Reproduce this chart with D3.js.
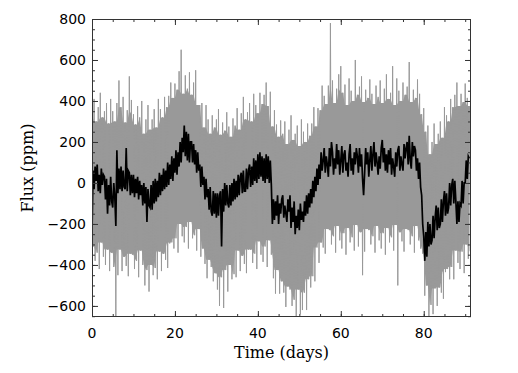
<!DOCTYPE html>
<html>
<head>
<meta charset="utf-8">
<script src="https://cdn.jsdelivr.net/npm/d3@7"></script>
<style>
  body { margin: 0; background: #fff; }
  .tick-label { font-family: "DejaVu Sans", sans-serif; font-size: 14px; fill: #000; }
  .axis-title { font-family: "DejaVu Serif", serif; font-size: 16px; fill: #000; }
</style>
</head>
<body>
<svg id="chart"></svg>
<script>
// Raw flux: upper / lower excursion of the noisy series, one pair every half day (t = 0, 0.5, ... 91)
const rawStep = 0.5;
const rawHigh = [
  330, 410, 300, 370, 440, 320, 350, 390, 290, 410, 350, 300, 390, 500, 370, 420, 295, 355, 520, 405,
  335, 285, 375, 320, 400, 240, 310, 380, 260, 310, 360, 270, 410, 360, 320, 420, 370, 425, 490, 415,
  485, 455, 545, 650, 435, 525, 460, 540, 430, 490, 550, 380, 380, 390, 270, 380, 310, 240, 330, 270,
  310, 360, 235, 295, 255, 345, 275, 225, 315, 280, 365, 260, 340, 420, 310, 345, 390, 300, 435, 380,
  340, 440, 385, 430, 490, 375, 445, 275, 355, 285, 225, 305, 240, 300, 190, 260, 330, 210, 240, 280,
  180, 310, 250, 200, 290, 230, 290, 370, 275, 365, 355, 475, 425, 385, 475, 780, 500, 390, 460, 530,
  570, 440, 480, 380, 510, 450, 400, 600, 430, 470, 520, 395, 455, 415, 505, 435, 385, 475, 420, 500,
  390, 460, 530, 410, 440, 570, 380, 510, 450, 400, 490, 430, 470, 590, 395, 455, 415, 505, 435, 335,
  365, 250, 280, 140, 200, 290, 190, 240, 300, 220, 370, 330, 300, 410, 370, 430, 490, 375, 435, 395,
  485, 415, 375
];
const rawLow = [
  -310, -380, -340, -420, -290, -360, -400, -325, -430, -340, -410, -654, -450, -325, -430, -360, -405, -455, -345, -350,
  -420, -380, -460, -330, -400, -500, -425, -530, -400, -450, -415, -470, -335, -430, -345, -375, -415, -295, -290, -320,
  -270, -340, -200, -260, -290, -215, -320, -190, -270, -255, -330, -225, -360, -320, -395, -465, -375, -410, -480, -440,
  -520, -600, -460, -610, -425, -530, -400, -470, -445, -460, -330, -430, -355, -395, -440, -325, -325, -390, -345, -420,
  -285, -350, -385, -310, -410, -280, -350, -465, -540, -425, -540, -480, -535, -605, -505, -520, -600, -570, -654, -520,
  -640, -620, -535, -620, -470, -510, -455, -480, -315, -390, -290, -315, -345, -225, -230, -300, -260, -340, -210, -280,
  -320, -245, -350, -220, -290, -265, -330, -205, -310, -240, -450, -335, -225, -230, -300, -260, -340, -210, -280, -320,
  -245, -350, -220, -290, -265, -330, -205, -500, -240, -285, -335, -225, -230, -300, -260, -340, -210, -280, -320, -345,
  -550, -500, -654, -595, -640, -515, -600, -510, -535, -565, -435, -420, -470, -410, -470, -330, -390, -420, -335, -440,
  -300, -370, -335
];

// Binned flux, every quarter day (t = 0, 0.25, ... 91)
const binStep = 0.25;
const binFlux = [
  -250, 60, -30, 80, 10, 90, -40, 40, -50, 70, -10, 40, 30, -80, 20, -150, -10, -110, 30, -90,
  -120, 0, -70, -210, 160, -50, 70, -30, 80, -40, 60, -20, -30, 170, -40, 60, 50, -60, 40, -50,
  40, -70, 20, -50, 30, -80, 10, -60, -10, -110, 0, -100, -20, -190, -30, -110, -120, -10, -130, 10,
  -100, 20, -90, 10, -70, 50, -60, 40, -40, 70, -30, 60, -20, 100, -10, 90, 20, 130, 10, 120,
  50, 160, 40, 150, 80, 200, 100, 220, 150, 280, 130, 250, 110, 240, 100, 200, 200, 100, 190, 90,
  160, 50, 150, 60, 90, -20, 80, -10, 30, -80, 20, -70, -30, -130, -20, -140, -160, -40, -150, -50,
  -170, -50, -160, -60, -40, -310, -30, -140, 0, -110, -10, -100, -120, -10, -110, 0, -90, 20, -80, 10,
  -70, 40, -60, 30, 50, -50, 60, -40, -40, 70, -30, 60, 90, -20, 80, -10, 120, 10, 110, 0,
  140, 20, 150, 30, 130, 10, 120, 0, 140, 20, 130, 0, 110, -10, -200, -80, -180, -90, -160, -60,
  -200, -100, -150, -80, -60, -170, -110, -150, -190, -80, -140, -60, -220, -120, -190, -90, -250, -160, -220, -130,
  -230, -100, -180, -140, -190, -90, -160, -60, -150, -50, -120, -30, -100, 10, -70, 30, -40, 70, -10, 90,
  20, 150, 60, 110, 170, 50, 130, 90, 30, 170, 80, 200, 150, 40, 120, 70, 190, 90, 160, 40,
  110, 180, 50, 140, 160, 60, 100, 30, 140, 190, 60, 120, 40, 150, 90, 170, 130, 50, 170, 80,
  140, 20, -60, 50, 170, 90, 150, 30, 110, 180, 60, 140, 200, 80, 150, 100, 40, 130, 70, 170,
  210, 100, 170, 60, 140, 50, 160, 90, 170, 40, 120, 80, 30, 150, 80, 160, 180, 60, 130, 90,
  60, 190, 120, 170, 200, 90, 230, 110, 70, 200, 130, 180, 160, 60, 120, 20, 100, -20, -60, -200,
  -260, -380, -240, -360, -190, -310, -200, -300, -280, -160, -270, -170, -110, -230, -120, -220, -200, -80, -190, -90,
  -40, -160, -50, -150, -120, 0, -110, -10, 20, -100, 10, -90, -200, -90, -190, -100, -110, 10, -100, 0,
  0, 110, 20, 130, 120
];

const xTicks = [0, 20, 40, 60, 80];
const yTicks = [-600, -400, -200, 0, 200, 400, 600, 800];

// Layout
const W = 518, H = 373;
const margin = { top: 19, right: 47, bottom: 56, left: 92 };
const width = W - margin.left - margin.right;
const height = H - margin.top - margin.bottom;

const svg = d3.select("#chart")
    .attr("width", W)
    .attr("height", H);

const x = d3.scaleLinear().domain([0, 91.4]).range([margin.left, margin.left + width]);
const y = d3.scaleLinear().domain([-654, 800]).range([margin.top + height, margin.top]);

svg.append("clipPath")
    .attr("id", "plot-clip")
    .append("rect")
    .attr("x", margin.left)
    .attr("y", margin.top)
    .attr("width", width)
    .attr("height", height);

const plot = svg.append("g").attr("clip-path", "url(#plot-clip)");

const rawColor = "#999";

// solid body of the raw band: the excursions with single-sample spikes trimmed off
const rawData = rawHigh.map((v, i) => {
    const win = d3.range(Math.max(0, i - 1), Math.min(rawHigh.length, i + 2));
    return {
        t: i * rawStep,
        hi: d3.min(win, j => rawHigh[j]),
        lo: d3.max(win, j => rawLow[j])
    };
});

const area = d3.area()
    .x(d => x(d.t))
    .y0(d => y(d.lo))
    .y1(d => y(d.hi));

plot.append("path")
    .datum(rawData)
    .attr("fill", rawColor)
    .attr("d", area);

// the spikes: zigzag through every high and low
const zig = [];
rawHigh.forEach((v, i) => {
    zig.push([i * rawStep, v]);
    zig.push([i * rawStep + rawStep / 2, rawLow[i]]);
});

const line = d3.line()
    .x(d => x(d[0]))
    .y(d => y(d[1]));

plot.append("path")
    .datum(zig)
    .attr("fill", "none")
    .attr("stroke", rawColor)
    .attr("stroke-width", 1)
    .attr("d", line);

plot.append("path")
    .datum(binFlux.map((v, i) => [i * binStep, v]))
    .attr("fill", "none")
    .attr("stroke", "#000")
    .attr("stroke-width", 1.7)
    .attr("d", line);

// Axes: ticks inside on all four sides
const axisColor = "#333";
const minorX = d3.range(0, 91, 5), minorY = d3.range(-650, 801, 50);
const axes = [
    [d3.axisBottom(x).tickValues(minorX).tickSize(-3), `0,${margin.top + height}`],
    [d3.axisBottom(x).tickValues(xTicks).tickSize(-6), `0,${margin.top + height}`],
    [d3.axisTop(x).tickValues(minorX).tickSize(-3), `0,${margin.top}`],
    [d3.axisTop(x).tickValues(xTicks).tickSize(-6), `0,${margin.top}`],
    [d3.axisLeft(y).tickValues(minorY).tickSize(-3), `${margin.left},0`],
    [d3.axisLeft(y).tickValues(yTicks).tickSize(-6), `${margin.left},0`],
    [d3.axisRight(y).tickValues(minorY).tickSize(-3), `${margin.left + width},0`],
    [d3.axisRight(y).tickValues(yTicks).tickSize(-6), `${margin.left + width},0`]
];
axes.forEach(([ax, tr]) => {
    const g = svg.append("g").attr("transform", `translate(${tr})`).call(ax.tickFormat(""));
    g.select(".domain").remove();
    g.selectAll("line").attr("stroke", axisColor);
});

svg.append("rect")
    .attr("x", margin.left + 0.5)
    .attr("y", margin.top + 0.5)
    .attr("width", width - 1)
    .attr("height", height - 1)
    .attr("fill", "none")
    .attr("stroke", axisColor)
    .attr("stroke-width", 1);

// Tick labels
svg.selectAll("text.xlab")
    .data(xTicks)
    .enter()
    .append("text")
    .attr("class", "tick-label xlab")
    .attr("x", d => x(d))
    .attr("y", 338)
    .attr("text-anchor", "middle")
    .text(d => d);

svg.selectAll("text.ylab")
    .data(yTicks)
    .enter()
    .append("text")
    .attr("class", "tick-label ylab")
    .attr("x", margin.left - 6)
    .attr("y", d => y(d))
    .attr("dy", "0.36em")
    .attr("text-anchor", "end")
    .text(d => d < 0 ? "\u2212" + Math.abs(d) : d);

// Titles
svg.append("text")
    .attr("class", "axis-title")
    .attr("x", margin.left + width / 2)
    .attr("y", 358)
    .attr("text-anchor", "middle")
    .text("Time (days)");

svg.append("text")
    .attr("class", "axis-title")
    .attr("transform", `translate(33, ${margin.top + height / 2}) rotate(-90)`)
    .attr("text-anchor", "middle")
    .text("Flux (ppm)");
</script>
</body>
</html>
